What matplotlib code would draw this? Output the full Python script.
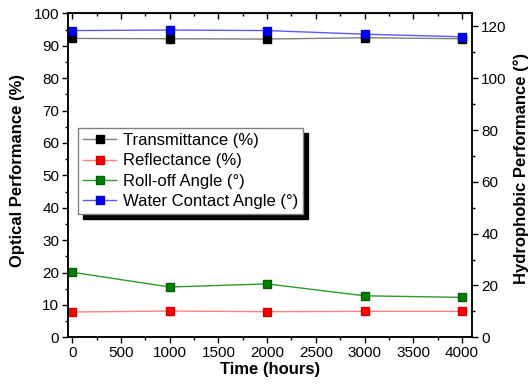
import matplotlib
matplotlib.use('Agg')
from matplotlib import pyplot as plt
from matplotlib.ticker import MultipleLocator

plt.rcParams['font.family'] = ['Liberation Sans', 'DejaVu Sans']

hours = [0, 1000, 2000, 3000, 4000]
transmittance = [92.3, 92.2, 92.1, 92.5, 92.2]      # %
reflectance = [7.8, 8.1, 7.9, 8.0, 8.0]             # %
roll_off = [25.1, 19.4, 20.6, 16.0, 15.4]           # degrees
contact_angle = [118.4, 118.6, 118.4, 117.0, 116.0] # degrees

fig = plt.figure(figsize=(5.3, 3.85), dpi=100)
ax = fig.add_axes([0.129, 0.124, 0.762, 0.841])
ax2 = ax.twinx()

sq = dict(marker='s', markersize=6, lw=1)
h1, = ax.plot(hours, transmittance, color='#7f7f7f', mfc='black', mec='black', label='Transmittance (%)', **sq)
h2, = ax.plot(hours, reflectance, color='#ff8080', mfc='red', mec='#d00000', label='Reflectance (%)', **sq)
h3, = ax2.plot(hours, roll_off, color='#2e9a2e', mfc='#008000', mec='#006000', label='Roll-off Angle (°)', **sq)
h4, = ax2.plot(hours, contact_angle, color='#5a5aff', mfc='#0000ff', mec='#0000c0', label='Water Contact Angle (°)', **sq)

ax.set_xlim(-40, 4105)
ax.set_ylim(0, 100)
ax2.set_ylim(0, 125)

ax.xaxis.set_major_locator(MultipleLocator(500))
ax.xaxis.set_minor_locator(MultipleLocator(250))
ax.yaxis.set_major_locator(MultipleLocator(10))
ax.yaxis.set_minor_locator(MultipleLocator(5))
ax2.yaxis.set_major_locator(MultipleLocator(20))
ax2.yaxis.set_minor_locator(MultipleLocator(10))

# bottom/left/right ticks point out, top ones point in
ax.tick_params(axis='x', which='both', direction='out', top=False)
ax.tick_params(which='major', length=4, width=1, labelsize=11, pad=2.5)
ax.tick_params(which='minor', length=2.5, width=1)
ax2.tick_params(which='major', direction='out', length=4, width=1, labelsize=11, pad=2.5)
ax2.tick_params(which='minor', direction='out', length=2.5, width=1)
top = ax.secondary_xaxis('top')
top.xaxis.set_major_locator(MultipleLocator(500))
top.xaxis.set_minor_locator(MultipleLocator(250))
top.tick_params(which='major', direction='in', length=4, width=1, labeltop=False)
top.tick_params(which='minor', direction='in', length=2.5, width=1)

for a in (ax, ax2):
    for s in a.spines.values():
        s.set_linewidth(1.1)

ax.set_xlabel('Time (hours)', fontsize=12, fontweight='bold', labelpad=1)
ax.set_ylabel('Optical Performance (%)', fontsize=12, fontweight='bold')
ax2.set_ylabel('Hydrophobic Performance (°)', fontsize=12, fontweight='bold')
ax.yaxis.set_label_coords(-0.108, 0.515)
ax2.yaxis.set_label_coords(1.103, 0.52)

ax2.legend(handles=[h1, h2, h3, h4], loc='upper left', bbox_to_anchor=(0.024, 0.646),
           borderaxespad=0, fontsize=12, fancybox=False, edgecolor='#808080',
           framealpha=1, handlelength=2.0, handletextpad=0.4, labelspacing=0.32,
           borderpad=0.3, shadow={'ox': 3.5, 'oy': -3.5, 'color': 'black', 'alpha': 1})

fig.savefig('out.png', dpi=100)
